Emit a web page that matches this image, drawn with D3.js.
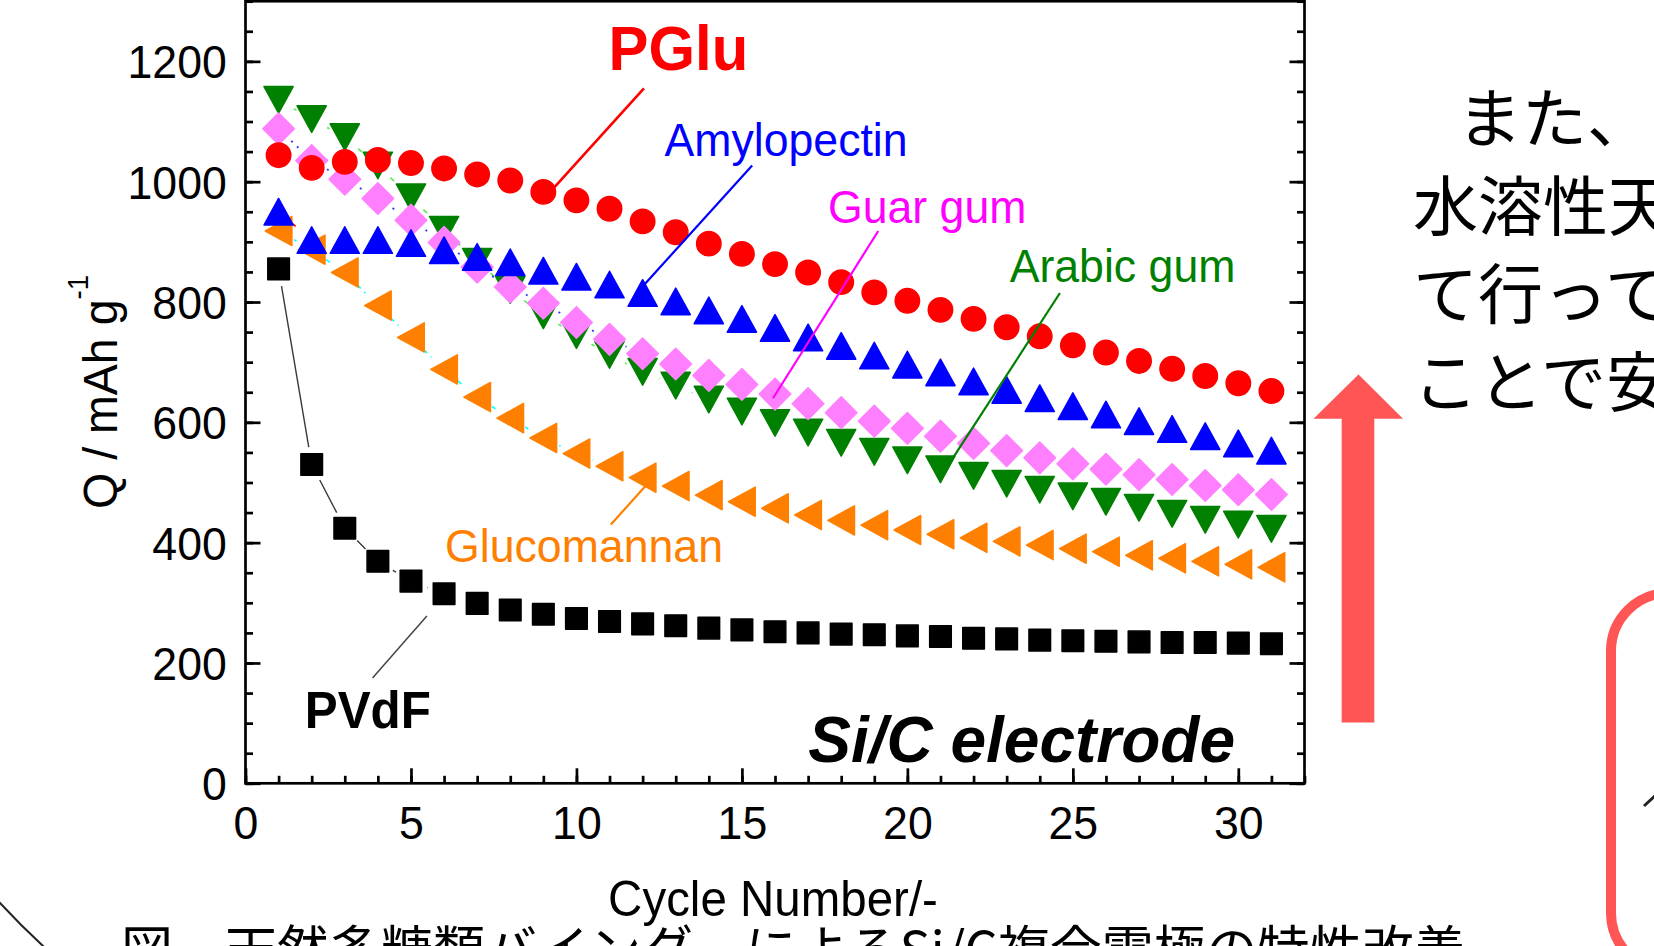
<!DOCTYPE html>
<html>
<head>
<meta charset="utf-8">
<script src="https://cdn.jsdelivr.net/npm/d3@7"></script>
<style>
  html, body { margin: 0; padding: 0; background: #fff; overflow: hidden; }
  svg { display: block; }
</style>
</head>
<body>
<svg id="chart" width="1654" height="946"></svg>
<script>
// ---- data: discharge capacity (mAh/g) per cycle ----
const cycles = d3.range(1, 32);
const pglu        = [1044, 1023, 1033, 1036, 1031, 1022, 1012, 1002, 983, 969, 955, 934, 916, 897, 880, 863, 849, 833, 816, 802, 787, 772, 758, 743, 728, 716, 702, 689, 677, 665, 652];
const amylopectin = [950, 903, 903, 903, 898, 886, 875, 866, 852, 842, 829, 815, 801, 786, 772, 757, 741, 727, 711, 696, 683, 668, 654, 640, 627, 613, 602, 589, 577, 565, 553];
const guarGum     = [1088, 1035, 1004, 972, 936, 899, 858, 825, 798, 766, 738, 714, 697, 678, 663, 647, 631, 616, 602, 590, 577, 565, 553, 541, 531, 522, 513, 505, 495, 488, 480];
const arabicGum   = [1136, 1104, 1074, 1027, 974, 920, 867, 820, 778, 745, 712, 684, 661, 638, 618, 599, 583, 566, 551, 537, 522, 511, 498, 488, 477, 468, 458, 448, 438, 430, 423];
const glucomannan = [918, 887, 849, 794, 741, 688, 642, 607, 574, 548, 527, 508, 494, 479, 468, 457, 446, 437, 429, 421, 414, 408, 402, 396, 390, 385, 379, 374, 369, 364, 359];
const pvdf        = [855, 530, 424, 369, 336, 315, 299, 288, 281, 274, 269, 265, 262, 258, 255, 252, 250, 248, 247, 245, 244, 241, 240, 238, 237, 236, 235, 234, 234, 233, 232];

const yTicks = [0, 200, 400, 600, 800, 1000, 1200];
const yMinor = d3.range(0, 1301, 50);
const xTicks = [0, 5, 10, 15, 20, 25, 30];
const xMinor = d3.range(0, 33, 1);

const xLabel = "Cycle Number/-";
const yLabel = "Q / mAh g";
const yLabelSup = "-1";
const electrodeLabel = "Si/C electrode";
const caption = "図\u3000天然多糖類バインダーによるSi/C複合電極の特性改善";
const sideText = ["また、", "水溶性天", "て行って", "ことで安"];

// ---- layout ----
const svg = d3.select("#chart");
const plot = { left: 245.5, right: 1304.5, top: 1.2, bottom: 783.3 };
const FONT = "'Liberation Sans', Arial, Helvetica, sans-serif";
const JP = "'Noto Sans CJK JP', 'Noto Sans CJK SC', sans-serif";
const SQUEEZE = 0.95;   // slightly narrow lettering
const AXIS_W = 2.7;
const SYMBOL_GAP = 17.5; // connecting lines stop this far from each symbol centre

const x = d3.scaleLinear().domain([0, 32]).range([plot.left, plot.right]);
const y = d3.scaleLinear().domain([0, 1300]).range([plot.bottom, plot.top]);

// ---- series styling ----
const series = [
  { name: "PVdF",        values: pvdf,        color: "#000000", shape: "square",  line: "#3a3a3a", dash: null,  lw: 1.4 },
  { name: "Glucomannan", values: glucomannan, color: "#FF8000", shape: "left",    line: "#00FFFF", dash: "5,5", lw: 1.6 },
  { name: "Arabic gum",  values: arabicGum,   color: "#008000", shape: "down",    line: "#55EE55", dash: "5,5", lw: 1.6 },
  { name: "Guar gum",    values: guarGum,     color: "#FF80FF", shape: "diamond", line: "#3333FF", dash: "2,6", lw: 1.8 },
  { name: "Amylopectin", values: amylopectin, color: "#0000FF", shape: "up",      line: "#FF0000", dash: "5,5", lw: 1.6 },
  { name: "PGlu",        values: pglu,        color: "#FF0000", shape: "circle",  line: null }
];

const shapes = {
  circle:  () => { const p = d3.path(); p.arc(0, 0, 12.2, 0, 2 * Math.PI); return p.toString(); },
  square:  () => "M-10.8,-10.8H10.8V10.8H-10.8Z",
  up:      () => "M0,-13.3L14.6,13.3L-14.6,13.3Z",
  down:    () => "M0,13.3L14.6,-13.3L-14.6,-13.3Z",
  left:    () => "M-13.3,0L13.3,-14.6L13.3,14.6Z",
  diamond: () => "M0,-15.8L15.8,0L0,15.8L-15.8,0Z"
};

// ---- text helper (narrowed glyphs) ----
function label(parent, o) {
  const g = parent.append("g")
    .attr("transform", `translate(${o.x},${o.y})${o.rotate ? ` rotate(${o.rotate})` : ""} scale(${o.squeeze ?? SQUEEZE},1)`);
  return g.append("text")
    .attr("text-anchor", o.anchor || "start")
    .attr("font-family", o.font || FONT)
    .attr("font-size", o.size)
    .attr("font-weight", o.weight || "normal")
    .attr("font-style", o.style || "normal")
    .attr("fill", o.color || "#000")
    .text(o.text);
}

// ---- axes ----
function styleTicks(g) {
  g.select(".domain").remove();
  g.selectAll(".tick line").attr("stroke", "#000").attr("stroke-width", AXIS_W);
}

// minor ticks
svg.append("g").attr("transform", `translate(${plot.left},0)`)
  .call(d3.axisLeft(y).tickValues(yMinor).tickSize(-7.5).tickFormat(""))
  .call(styleTicks);
svg.append("g").attr("transform", `translate(${plot.right},0)`)
  .call(d3.axisRight(y).tickValues(yMinor).tickSize(-7.5).tickFormat(""))
  .call(styleTicks);
svg.append("g").attr("transform", `translate(0,${plot.bottom})`)
  .call(d3.axisBottom(x).tickValues(xMinor).tickSize(-7.5).tickFormat(""))
  .call(styleTicks);

// major ticks + labels
const yAxis = svg.append("g").attr("transform", `translate(${plot.left},0)`)
  .call(d3.axisLeft(y).tickValues(yTicks).tickSize(-15).tickPadding(19.7).tickFormat(d3.format("d")))
  .call(styleTicks);
yAxis.selectAll(".tick text")
  .attr("font-family", FONT).attr("font-size", 47).attr("fill", "#000")
  .attr("dy", "0.35em")
  .attr("transform", `scale(${SQUEEZE},1)`);

svg.append("g").attr("transform", `translate(${plot.right},0)`)
  .call(d3.axisRight(y).tickValues(yTicks).tickSize(-15).tickFormat(""))
  .call(styleTicks);

const xAxis = svg.append("g").attr("transform", `translate(0,${plot.bottom})`)
  .call(d3.axisBottom(x).tickValues(xTicks).tickSize(-15).tickFormat(d3.format("d")))
  .call(styleTicks);
xAxis.selectAll(".tick text")
  .attr("font-family", FONT).attr("font-size", 47).attr("fill", "#000")
  .attr("y", 56).attr("dy", 0)
  .attr("transform", `scale(${SQUEEZE},1)`);

// frame
svg.append("rect")
  .attr("x", plot.left).attr("y", plot.top)
  .attr("width", plot.right - plot.left).attr("height", plot.bottom - plot.top)
  .attr("fill", "none").attr("stroke", "#000").attr("stroke-width", AXIS_W);

// ---- series ----
// connecting segments, broken around each symbol
function gappedSegments(values) {
  const pts = values.map((v, i) => [x(cycles[i]), y(v)]);
  const segs = [];
  for (let i = 1; i < pts.length; i++) {
    const [x0, y0] = pts[i - 1], [x1, y1] = pts[i];
    const L = Math.hypot(x1 - x0, y1 - y0);
    if (L <= 2 * SYMBOL_GAP) continue;
    const ux = (x1 - x0) / L, uy = (y1 - y0) / L;
    segs.push([x0 + ux * SYMBOL_GAP, y0 + uy * SYMBOL_GAP, x1 - ux * SYMBOL_GAP, y1 - uy * SYMBOL_GAP]);
  }
  return segs;
}

const marks = svg.append("g");
series.forEach(s => {
  const g = marks.append("g").attr("class", "series");
  if (s.line) {
    g.selectAll("line.link")
      .data(gappedSegments(s.values))
      .join("line")
      .attr("class", "link")
      .attr("x1", d => d[0]).attr("y1", d => d[1])
      .attr("x2", d => d[2]).attr("y2", d => d[3])
      .attr("stroke", s.line)
      .attr("stroke-width", s.lw)
      .attr("stroke-dasharray", s.dash);
  }
  g.selectAll("path.mark")
    .data(s.values)
    .join("path")
    .attr("class", "mark")
    .attr("transform", (d, i) => `translate(${x(cycles[i])},${y(d)})`)
    .attr("d", shapes[s.shape]())
    .attr("fill", s.color)
    .attr("stroke", s.color)
    .attr("stroke-width", 1.5)
    .attr("stroke-linejoin", "round");
});

// ---- call-out labels (anchored in data units) ----
const callouts = [
  { text: "PGlu",        color: "#FF0000", lineColor: "#FF0000", size: 63, weight: "bold", at: [10.97, 1185], from: [12.04, 1155], to: [9.29, 988],  lw: 2.6 },
  { text: "Amylopectin", color: "#0000FF", lineColor: "#0000FF", size: 47, at: [12.66, 1042], from: [15.31, 1027], to: [12.02, 827], lw: 2.2 },
  { text: "Guar gum",    color: "#FF00FF", lineColor: "#FF00FF", size: 47, at: [17.60, 932],  from: [19.12, 918],  to: [15.94, 640], lw: 2.2 },
  { text: "Arabic gum",  color: "#008000", lineColor: "#008000", size: 47, at: [23.09, 834],  from: [24.61, 815],  to: [21.05, 513], lw: 2.2 },
  { text: "Glucomannan", color: "#FF8000", lineColor: "#FF8000", size: 47, at: [6.03, 368],   from: [11.04, 430],  to: [12.10, 495], lw: 2.2 },
  { text: "PVdF",        color: "#000000", lineColor: "#444444", size: 52, weight: "bold", at: [1.79, 92], from: [3.84, 175], to: [5.48, 278], lw: 1.5 }
];
const notes = svg.append("g");
callouts.forEach(c => {
  notes.append("line")
    .attr("x1", x(c.from[0])).attr("y1", y(c.from[1]))
    .attr("x2", x(c.to[0])).attr("y2", y(c.to[1]))
    .attr("stroke", c.lineColor).attr("stroke-width", c.lw);
  label(notes, { x: x(c.at[0]), y: y(c.at[1]), text: c.text, size: c.size, color: c.color, weight: c.weight });
});

label(notes, { x: x(29.9), y: y(36), text: electrodeLabel, size: 64, weight: "bold", style: "italic", anchor: "end", squeeze: 1 });

// ---- axis titles ----
label(svg, { x: 773, y: 915.5, text: xLabel, size: 50, anchor: "middle" });
const yt = label(svg, { x: 117, y: 392, rotate: -90, text: yLabel, size: 49, anchor: "middle" });
yt.append("tspan").attr("dy", -29).attr("font-size", 29).text(yLabelSup);

// ---- surrounding slide elements ----
const deco = svg.append("g");
// upward arrow
deco.append("path")
  .attr("d", "M1358.5,374.5 L1403,418.8 L1374.3,418.8 L1374.3,722.5 L1341.7,722.5 L1341.7,418.8 L1313.5,418.8 Z")
  .attr("fill", "#FF5555");
// rounded frame at lower right
deco.append("rect")
  .attr("x", 1611).attr("y", 593).attr("width", 240).attr("height", 378).attr("rx", 58)
  .attr("fill", "none").attr("stroke", "#FF5555").attr("stroke-width", 10);
deco.append("line")
  .attr("x1", 1644).attr("y1", 806).attr("x2", 1656).attr("y2", 795)
  .attr("stroke", "#222").attr("stroke-width", 3);
// large arc at lower left
deco.append("path")
  .attr("d", "M-6.4,896 A816,816 0 0 0 54,956")
  .attr("fill", "none").attr("stroke", "#222").attr("stroke-width", 2);

// side text
const sideX = [1457, 1413, 1413, 1413];
const sideY = [142, 230, 318, 406];
sideText.forEach((t, i) => {
  label(deco, { x: sideX[i], y: sideY[i], text: t, size: 65, font: JP, squeeze: 1 });
});

// caption
label(deco, { x: 121, y: 969, text: caption, size: 52, font: JP, squeeze: 1 });
</script>
</body>
</html>
